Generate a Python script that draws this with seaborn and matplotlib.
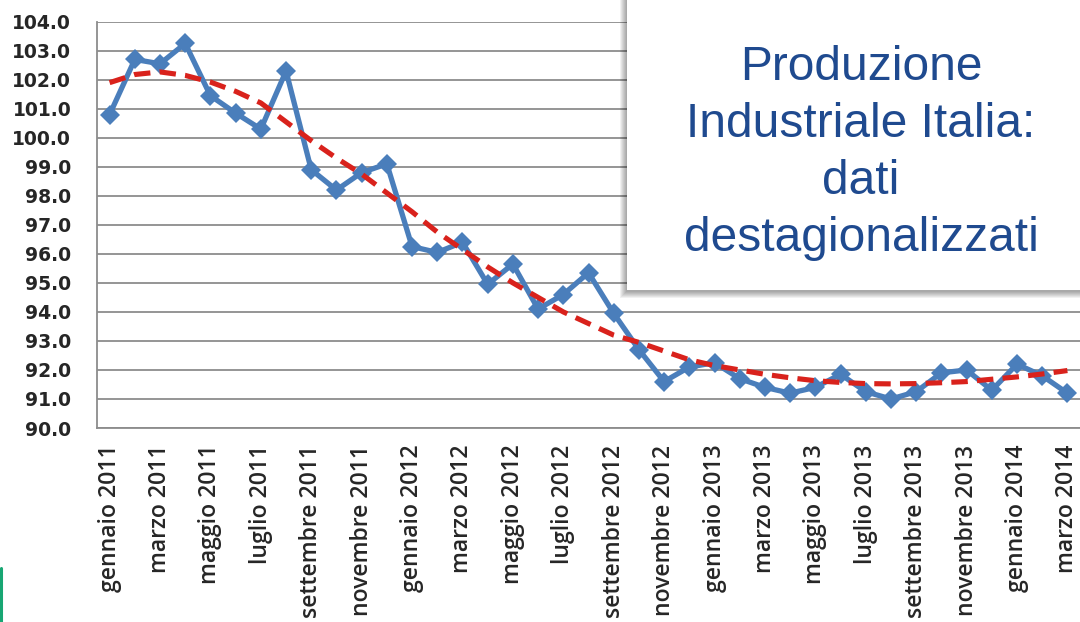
import numpy as np
import pandas as pd
import matplotlib
matplotlib.use("Agg")
import matplotlib.pyplot as plt
from matplotlib.patches import Rectangle
from matplotlib.lines import Line2D
import seaborn as sns

# Mesi (gennaio 2011 - marzo 2014)
mesi = ["gennaio", "febbraio", "marzo", "aprile", "maggio", "giugno",
        "luglio", "agosto", "settembre", "ottobre", "novembre", "dicembre"]
anni = [2011, 2012, 2013, 2014]
periodi = [f"{m} {a}" for a in anni for m in mesi][:39]

# Indice produzione industriale, dati destagionalizzati
produzione = [100.8, 102.7, 102.55, 103.25, 101.45, 100.85, 100.3, 102.3,
              98.9, 98.2, 98.8, 99.1, 96.25, 96.05, 96.4, 94.95, 95.65,
              94.1, 94.6, 95.35, 93.95, 92.7, 91.6, 92.1, 92.25, 91.7,
              91.4, 91.2, 91.4, 91.85, 91.25, 91.0, 91.25, 91.9, 92.0,
              91.3, 92.2, 91.8, 91.2]

# Linea di tendenza
tendenza = [101.9, 102.18, 102.27, 102.15, 101.92, 101.6, 101.2, 100.55,
            99.9, 99.3, 98.75, 98.1, 97.45, 96.75, 96.15, 95.55, 95.0,
            94.5, 94.0, 93.6, 93.2, 92.95, 92.65, 92.35, 92.15, 92.0,
            91.85, 91.73, 91.63, 91.57, 91.53, 91.52, 91.53, 91.56, 91.6,
            91.68, 91.76, 91.86, 91.98]

df = pd.DataFrame({
    "periodo": periodi,
    "indice": np.arange(len(periodi)),
    "produzione": produzione,
    "tendenza": tendenza,
})

sns.set_style("white")
W, H = 1080, 622
fig = plt.figure(figsize=(W / 100, H / 100), dpi=100)
ax = fig.add_axes([97 / W, 1 - 428 / H, 1 - 97 / W, (428 - 21.7) / H])

grigio = "#8C8C8C"
blu = "#4A7EBB"
rosso = "#D9221C"

sns.lineplot(data=df, x="indice", y="produzione", ax=ax, color=blu,
             linewidth=3.8, marker="D", markersize=10.5, markeredgewidth=0,
             zorder=3)
sns.lineplot(data=df, x="indice", y="tendenza", ax=ax, color=rosso,
             linewidth=3.7, zorder=4)
ax.lines[-1].set_dashes([3.2, 1.8])

ax.set_xlim(-0.5, (W - 97) / 25.47 - 0.5)
ax.set_ylim(90, 104)
ax.set_xlabel("")
ax.set_ylabel("")

# asse y
ax.set_yticks(range(90, 105))
ax.set_yticklabels([f"{v:.1f}" for v in range(90, 105)],
                   fontweight="bold", fontsize=13.5, family="DejaVu Sans")
ax.tick_params(axis="y", length=6.5, width=1.2, color=grigio, pad=12)
ax.grid(axis="y", color=grigio, linewidth=1.3)
ax.grid(axis="x", visible=False)

# asse x: etichette ogni due mesi, tacche fra le categorie
ax.set_xticks(df["indice"][::2])
ax.set_xticklabels(df["periodo"][::2], rotation=90, fontsize=16.6,
                   family="Open Sans", fontweight="semibold")
ax.set_xticks(np.arange(-0.5, len(periodi) + 0.5, 1), minor=True)
ax.tick_params(axis="x", which="major", length=0, pad=12)
ax.tick_params(axis="x", which="minor", length=5, width=1.2, color=grigio)

for s in ["top", "right"]:
    ax.spines[s].set_visible(False)
for s in ["left", "bottom"]:
    ax.spines[s].set_color(grigio)
    ax.spines[s].set_linewidth(1.3)

# riquadro del titolo con ombra
x0, y0 = 627 / W, 1 - 290 / H
for k in range(7, 0, -1):
    fig.add_artist(Rectangle((x0 - k / W, y0 - (k + 1) / H), 1.2, 1.2,
                             transform=fig.transFigure, facecolor="black",
                             alpha=0.055, edgecolor="none", zorder=5))
fig.add_artist(Rectangle((x0, y0), 1.2, 1.2, transform=fig.transFigure,
                         facecolor="white", edgecolor="none", zorder=6))

titolo = ["Produzione", "Industriale Italia:", "dati", "destagionalizzati"]
baseline = [80, 137, 194, 251]
for riga, yb in zip(titolo, baseline):
    fig.text(861 / W, 1 - yb / H, riga, ha="center", va="baseline",
             fontsize=34.5, color="#1F4A8F", family="Liberation Sans",
             zorder=7)

# filetto verde in basso a sinistra
fig.add_artist(Line2D([1 / W, 1 / W], [0, 1 - 568 / H],
                      transform=fig.transFigure, color="#17A673",
                      linewidth=2.2, zorder=7))

fig.savefig("out.png", dpi=100)
